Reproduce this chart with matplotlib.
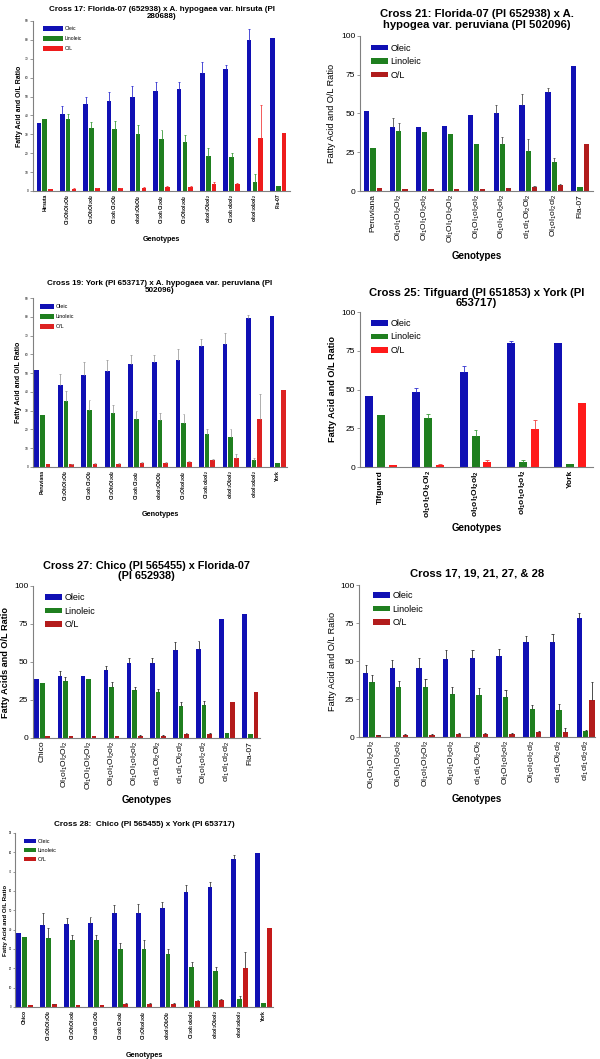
import re
import numpy as np
import matplotlib
matplotlib.use('Agg')
import matplotlib.pyplot as plt

plt.rcParams['font.family'] = ['Liberation Sans', 'DejaVu Sans']
plt.rcParams['mathtext.fontset'] = 'custom'
plt.rcParams['mathtext.rm'] = 'Liberation Sans'
plt.rcParams['mathtext.bf'] = 'Liberation Sans:bold'
plt.rcParams['mathtext.it'] = 'Liberation Sans:italic'

nan = np.nan
W, H = 600, 1059

# ---------------- data ----------------
# Cross 17
c17_labels = ['Hirsuta', 'Ol1Ol1Ol2Ol2', 'Ol1Ol1Ol2ol2', 'Ol1ol1Ol2Ol2', 'ol1ol1Ol2Ol2', 'Ol1ol1Ol2ol2',
              'Ol1Ol1ol2ol2', 'ol1ol1Ol2ol2', 'Ol1ol1ol2ol2', 'ol1ol1ol2ol2', 'Fla-07']
c17_oleic = [36.0, 40.7, 45.8, 47.4, 49.5, 52.8, 53.9, 62.7, 64.4, 79.8, 81.2]
c17_oleic_sd = [nan, 4.5, 4.0, 5.1, 6.0, 5.1, 4.0, 5.6, 2.5, 6.1, nan]
c17_lin = [38.3, 38.0, 33.5, 32.6, 30.1, 27.5, 26.1, 18.5, 17.8, 4.8, 2.8]
c17_lin_sd = [nan, 2.8, 2.9, 4.5, 4.8, 4.7, 3.8, 4.4, 2.1, 4.2, nan]
c17_ol = [0.9, 1.2, 1.4, 1.5, 1.8, 2.1, 2.0, 3.6, 3.7, 28.2, 30.6]
c17_ol_sd = [nan, 0.2, 0.2, 0.3, 0.3, 0.3, 0.4, 1.4, 0.7, 17.2, nan]

# Cross 21
c21_labels = ['Peruviana', 'Ol1ol1Ol2Ol2', 'Ol1Ol1Ol2ol2', 'Ol1Ol1Ol2Ol2', 'Ol1Ol1ol2ol2', 'Ol1ol1Ol2ol2',
              'ol1ol1Ol2Ol2', 'Ol1ol1ol2ol2', 'Fla-07']
c21_oleic = [51.5, 41.0, 41.6, 42.1, 49.1, 50.6, 55.4, 64.0, 80.9]
c21_oleic_sd = [nan, 5.8, nan, nan, nan, 4.6, 7.3, 2.7, nan]
c21_lin = [27.9, 38.4, 38.2, 36.7, 30.5, 30.3, 26.0, 18.5, 2.8]
c21_lin_sd = [nan, 5.2, nan, nan, nan, 4.5, 7.3, 2.5, nan]
c21_ol = [1.9, 1.3, 1.1, 1.1, 1.5, 1.8, 2.4, 3.9, 30.5]
c21_ol_sd = [nan, nan, nan, nan, nan, 0.4, 1.0, 0.5, nan]

# Cross 19
c19_labels = ['Peruviana', 'Ol1Ol1Ol2Ol2', 'Ol1ol1Ol2Ol2', 'Ol1Ol1Ol2ol2', 'Ol1ol1Ol2ol2', 'ol1ol1Ol2Ol2',
              'Ol1Ol1ol2ol2', 'Ol1ol1ol2ol2', 'ol1ol1Ol2ol2', 'ol1ol1ol2ol2', 'York']
c19_oleic = [51.5, 43.5, 48.8, 51.2, 54.7, 55.8, 57.0, 64.4, 65.4, 79.3, 80.2]
c19_oleic_sd = [nan, 5.9, 7.2, 5.7, 5.2, 4.1, 5.9, 3.9, 5.7, 1.6, nan]
c19_lin = [27.8, 34.9, 30.3, 28.5, 25.5, 25.1, 23.4, 17.8, 16.0, 3.6, 2.0]
c19_lin_sd = [nan, 5.4, 5.3, 4.5, 4.3, 3.4, 4.8, 2.3, 4.0, 1.2, nan]
c19_ol = [1.8, 1.4, 1.8, 1.8, 2.2, 2.2, 2.6, 3.6, 4.7, 25.5, 41.0]
c19_ol_sd = [nan, 0.3, 0.4, 0.3, 0.6, 0.3, 0.7, 0.6, 2.4, 13.4, nan]

# Cross 25
c25_labels = ['Tifguard', 'ol1ol1Ol2Ol2', 'ol1ol1Ol2ol2', 'ol1ol1ol2ol2', 'York']
c25_oleic = [46.0, 48.4, 61.3, 79.8, 80.2]
c25_oleic_sd = [nan, 2.6, 4.1, 1.7, nan]
c25_lin = [33.8, 31.4, 19.8, 3.2, 2.1]
c25_lin_sd = [nan, 2.6, 4.3, 1.1, nan]
c25_ol = [1.5, 1.6, 3.4, 24.3, 41.3]
c25_ol_sd = [nan, 0.3, 0.8, 6.2, nan]

# Cross 27
c27_labels = ['Chico', 'Ol1ol1Ol2Ol2', 'Ol1Ol1Ol2Ol2', 'Ol1ol1Ol2ol2', 'Ol1Ol1ol2ol2', 'ol1ol1Ol2Ol2',
              'ol1ol1Ol2ol2', 'Ol1ol1ol2ol2', 'ol1ol1ol2ol2', 'Fla-07']
c27_oleic = [38.6, 41.0, 40.8, 44.5, 49.6, 49.6, 57.7, 58.6, 78.5, 81.4]
c27_oleic_sd = [nan, 2.9, nan, 2.6, 3.0, 2.8, 5.2, 5.0, nan, nan]
c27_lin = [36.4, 37.7, 38.8, 33.3, 31.6, 30.0, 21.0, 21.5, 3.3, 2.8]
c27_lin_sd = [nan, 2.7, nan, 3.3, 2.0, 2.5, 2.5, 2.6, nan, nan]
c27_ol = [1.0, 1.0, 1.0, 1.4, 1.6, 1.6, 2.8, 2.9, 23.5, 30.3]
c27_ol_sd = [nan, nan, nan, nan, 0.3, 0.3, 0.4, 0.6, nan, nan]

# Cross 17, 19, 21, 27 & 28 pooled
call_labels = ['Ol1Ol1Ol2Ol2', 'Ol1Ol1Ol2ol2', 'Ol1ol1Ol2Ol2', 'Ol1ol1Ol2ol2', 'ol1ol1Ol2Ol2',
               'Ol1Ol1ol2ol2', 'Ol1ol1ol2ol2', 'ol1ol1Ol2ol2', 'ol1ol1ol2ol2']
call_oleic = [42.0, 45.3, 45.5, 51.4, 51.9, 53.4, 62.8, 62.8, 78.6]
call_oleic_sd = [5.5, 5.2, 6.4, 5.7, 5.4, 4.8, 3.9, 5.2, 2.8]
call_lin = [35.9, 33.0, 33.0, 28.0, 27.6, 26.5, 18.6, 17.9, 4.2]
call_lin_sd = [4.6, 3.8, 5.0, 4.8, 4.4, 4.6, 2.6, 4.0, 0.5]
call_ol = [1.0, 1.4, 1.4, 1.8, 1.8, 2.2, 3.4, 3.6, 24.3]
call_ol_sd = [0.3, 0.3, 0.3, 0.6, 0.6, 0.4, 0.5, 2.0, 11.6]

# Cross 28
c28_labels = ['Chico', 'Ol1Ol1Ol2Ol2', 'Ol1Ol1Ol2ol2', 'Ol1ol1Ol2Ol2', 'Ol1ol1Ol2ol2', 'Ol1Ol1ol2ol2',
              'ol1ol1Ol2Ol2', 'Ol1ol1ol2ol2', 'ol1ol1Ol2ol2', 'ol1ol1ol2ol2', 'York']
c28_oleic = [38.4, 42.2, 43.1, 43.3, 48.6, 48.6, 51.2, 59.3, 62.1, 76.5, 79.9]
c28_oleic_sd = [nan, 6.2, 3.1, 3.1, 4.0, 4.5, 3.1, 3.7, 2.8, 2.0, nan]
c28_lin = [36.2, 35.5, 34.6, 34.4, 29.9, 29.9, 27.3, 20.8, 18.7, 4.3, 2.1]
c28_lin_sd = [nan, 5.2, 2.4, 2.6, 3.0, 4.5, 2.5, 2.6, 2.1, 1.6, nan]
c28_ol = [1.0, 1.3, 1.2, 1.1, 1.6, 1.6, 1.7, 2.9, 3.4, 20.1, 41.0]
c28_ol_sd = [nan, 0.3, nan, nan, 0.3, 0.3, 0.5, 0.6, 0.6, 8.6, nan]

series_names = ['Oleic', 'Linoleic', 'O/L']
BLUE = '#1010b4'
GREEN = '#1f7f1f'


def tick_label(s, bold):
    if s.startswith(('Ol', 'ol')):
        s = re.sub(r'([12])', r'_\1', s)
        return r'$\mathbf{%s}$' % s if bold else r'$\mathrm{%s}$' % s
    return s


def px_rect(l, t, r, b):
    return [l / W, 1 - b / H, (r - l) / W, (b - t) / H]


def panel(fig, rect, title, labels, vals, sds, ymax, ystep, st):
    ax = fig.add_axes(px_rect(*rect))
    x = np.arange(len(labels))
    colors = [BLUE, GREEN, st['red']]
    bw, step = st.get('bw', 0.2), st.get('step', 0.24)
    for i, (v, e, c, name) in enumerate(zip(vals, sds, colors, series_names)):
        xi = x + (i - 1) * step
        ax.bar(xi, v, bw, color=c, label=name, zorder=2)
        v, e = np.asarray(v), np.asarray(e)
        ok = ~np.isnan(e)
        ec = st['err'][i] if isinstance(st['err'], list) else st['err']
        ax.vlines(xi[ok], v[ok], v[ok] + e[ok], color=ec, lw=0.6, zorder=3)
        ax.hlines(v[ok] + e[ok], xi[ok] - 0.04, xi[ok] + 0.04, color=ec, lw=0.6, zorder=3)
    ax.set_xlim(*st['xlim'])
    ax.set_ylim(0, ymax)
    ax.set_yticks(np.arange(0, ymax + 0.1, ystep))
    ax.tick_params(axis='y', labelsize=st['fs_yt'], length=st.get('tl', 2), width=0.5,
                   color='#707070', pad=st.get('tp', 1.5))
    ax.set_xticks(x)
    ax.set_xticklabels([tick_label(s, st['bold_xt']) for s in labels], rotation=90, va='top', ha='center',
                       fontsize=st['fs_xt'], fontweight='bold' if st['bold_xt'] else 'normal')
    ax.tick_params(axis='x', length=0, pad=2)
    for sp in ['top', 'right']:
        ax.spines[sp].set_visible(False)
    for sp in ['left', 'bottom']:
        ax.spines[sp].set_color('#808080')
        ax.spines[sp].set_linewidth(0.8)
    ax.set_title(title, fontsize=st['fs_title'], fontweight='bold', pad=st['pad'], linespacing=1.05)
    ax.set_ylabel(st.get('ylabel', 'Fatty Acid and O/L Ratio'), fontsize=st['fs_yl'],
                  fontweight='bold' if st['bold_yl'] else 'normal')
    ax.yaxis.set_label_coords(st['ylx'], 0.5)
    ax.yaxis.label.set_va('center')
    ax.set_xlabel('Genotypes', fontsize=st['fs_xl'], fontweight='bold')
    ax.xaxis.set_label_coords(0.5, st['xly'])
    ax.xaxis.label.set_va('center')
    ax.legend(loc='upper left', bbox_to_anchor=st['leg'], frameon=False, borderpad=0, borderaxespad=0,
              fontsize=st['fs_leg'], handlelength=st['hl'], handleheight=st['hh'],
              handletextpad=0.3, labelspacing=st['ls'])
    return ax


fig = plt.figure(figsize=(W / 100, H / 100), dpi=100)

small = dict(fs_yt=2.3, fs_xt=3.6, bold_xt=True, fs_yl=5.0, bold_yl=True, fs_xl=5.2, fs_title=5.8)
big = dict(fs_yt=6, fs_xt=6, bold_xt=False, fs_yl=6.6, bold_yl=False, fs_xl=7, fs_title=8.1,
           fs_leg=6.5, hl=1.85, hh=0.55, ls=0.5)

panel(fig, (33, 21, 290, 191),
      'Cross 17: Florida-07 (652938) x A. hypogaea var. hirsuta (PI\n280688)',
      c17_labels, [c17_oleic, c17_lin, c17_ol], [c17_oleic_sd, c17_lin_sd, c17_ol_sd], 90, 10,
      dict(small, red='#ee1c1c', err=['#3030d0', '#3a9a3a', '#f04040'], xlim=(-0.5, 10.5), pad=2,
           bw=0.2, step=0.25, ylx=-0.054, xly=-0.288, leg=(0.039, 0.968),
           fs_leg=3.6, hl=4.0, hh=1.0, ls=1.0))

panel(fig, (360, 36, 593, 191),
      'Cross 21: Florida-07 (PI 652938) x A.\nhypogea var. peruviana (PI 502096)',
      c21_labels, [c21_oleic, c21_lin, c21_ol], [c21_oleic_sd, c21_lin_sd, c21_ol_sd], 100, 25,
      dict(big, red='#b01c1c', err='#505050', xlim=(-0.5, 8.5), pad=6,
           ylx=-0.124, xly=-0.419, leg=(0.047, 0.95)))

panel(fig, (33, 298, 287, 467),
      'Cross 19: York (PI 653717) x A. hypogaea var. peruviana (PI\n502096)',
      c19_labels, [c19_oleic, c19_lin, c19_ol], [c19_oleic_sd, c19_lin_sd, c19_ol_sd], 90, 10,
      dict(small, red='#dd2222', err='#a0a0a0', xlim=(-0.4, 10.4), pad=4,
           ylx=-0.059, xly=-0.284, leg=(0.028, 0.964),
           fs_leg=3.9, hl=2.5, hh=0.95, ls=0.9))

panel(fig, (360, 312, 593, 467),
      'Cross 25: Tifguard (PI 651853) x York (PI\n653717)',
      c25_labels, [c25_oleic, c25_lin, c25_ol], [c25_oleic_sd, c25_lin_sd, c25_ol_sd], 100, 25,
      dict(big, red='#ff1a1a', err=['#3030d0', '#3a9a3a', '#f04040'], xlim=(-0.44, 4.48), pad=4,
           bw=0.17, step=0.25, bold_xt=True, bold_yl=True,
           ylx=-0.116, xly=-0.394, leg=(0.047, 0.955)))

panel(fig, (33, 586, 260, 738),
      'Cross 27: Chico (PI 565455) x Florida-07\n(PI 652938)',
      c27_labels, [c27_oleic, c27_lin, c27_ol], [c27_oleic_sd, c27_lin_sd, c27_ol_sd], 100, 25,
      dict(big, red='#b31b1b', err='#303030', xlim=(-0.4, 9.42), pad=5, bold_yl=True, fs_title=7.8,
           ylabel='Fatty Acids and O/L Ratio', ylx=-0.123, xly=-0.408, leg=(0.053, 0.954)))

panel(fig, (359, 585, 595, 737),
      'Cross 17, 19, 21, 27, & 28',
      call_labels, [call_oleic, call_lin, call_ol], [call_oleic_sd, call_lin_sd, call_ol_sd], 100, 25,
      dict(big, red='#b21c1c', err='#303030', xlim=(-0.49, 8.35), pad=6,
           ylx=-0.114, xly=-0.408, leg=(0.059, 0.96)))

panel(fig, (15, 833, 273, 1007),
      'Cross 28:  Chico (PI 565455) x York (PI 653717)',
      c28_labels, [c28_oleic, c28_lin, c28_ol], [c28_oleic_sd, c28_lin_sd, c28_ol_sd], 90, 10,
      dict(small, red='#c41a1a', err='#404040', xlim=(-0.4, 10.4), pad=5, fs_title=5.9,
           fs_yl=4.4, fs_yt=2.0, tl=1.5, tp=0.8,
           ylx=-0.036, xly=-0.276, leg=(0.035, 0.966),
           fs_leg=4, hl=2.2, hh=0.75, ls=0.75))

fig.savefig('out.png', dpi=100)
